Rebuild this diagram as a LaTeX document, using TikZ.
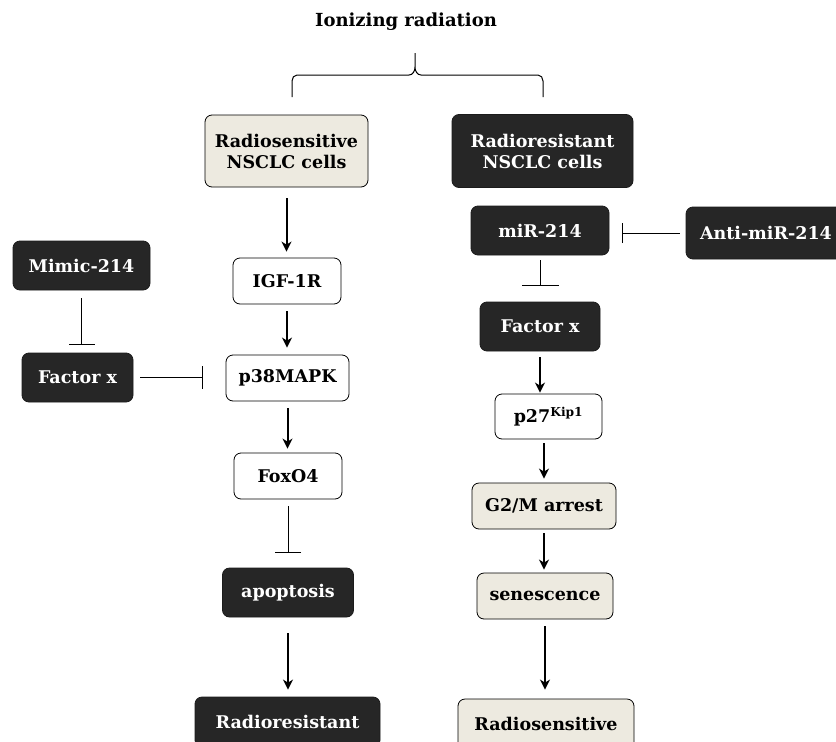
\documentclass[tikz,border=0pt]{standalone}
\usepackage{fontspec}
\setmainfont{DejaVu Serif}
\usetikzlibrary{arrows.meta,positioning}
\definecolor{boxdark}{RGB}{38,38,38}
\definecolor{boxpale}{RGB}{237,234,224}
\tikzset{
  pbox/.style   ={rectangle, rounded corners=7pt, draw=black, line width=0.8pt,
                  align=center, inner sep=2pt, font=\fontsize{17.5}{21}\selectfont\bfseries},
  pdark/.style  ={pbox, fill=boxdark, text=white, draw=boxdark!70!black},
  ppale/.style  ={pbox, fill=boxpale},
  pplain/.style ={pbox, fill=white},
  pact/.style   ={-{Stealth[length=10pt,width=10pt,inset=3pt]}, line width=2pt},
  pinh/.style   ={-{Bar[width=#1]}, line width=0.9pt},
  pinh/.default =26pt,
  pbrace/.style ={line width=1pt},
}

\begin{document}
\begin{tikzpicture}[x=1pt,y=-1pt]
  \clip (0,0) rectangle (836,742);
  \fill[white] (0,0) rectangle (836,742);

  % ---- top: the stimulus ---------------------------------------------------
  \node[font=\fontsize{18}{21}\selectfont\bfseries] (ir) at (406,22) {Ionizing radiation};
  \draw[pbrace] (292,97) -- (292,81) to[out=90,in=180] (297,75) -- (409,75)
                to[out=0,in=-90] (415,67) -- (415,53)
                (415,67) to[out=-90,in=180] (421,75) -- (538,75)
                to[out=0,in=90] (543,81) -- (543,97);

  % ---- left branch ---------------------------------------------------------
  \node[ppale,  minimum width=163pt, minimum height=72pt] (rsens) at (286.5,151) {Radiosensitive\\NSCLC cells};
  \node[pplain, minimum width=108pt, minimum height=46pt] (igf)   at (287,281)   {IGF-1R};
  \node[pplain, minimum width=123pt, minimum height=46pt] (p38)   at (287.5,378) {p38MAPK};
  \node[pplain, minimum width=108pt, minimum height=46pt] (foxo)  at (288,476)   {FoxO4};
  \node[pdark,  minimum width=131pt, minimum height=49pt] (apop)  at (288,592.5) {apoptosis};
  \node[pdark,  minimum width=185pt, minimum height=50pt] (rres2) at (287.5,722) {Radioresistant};
  \node[pdark,  minimum width=137pt, minimum height=49pt] (mimic) at (81.5,265.5) {Mimic-214};
  \node[pdark,  minimum width=111pt, minimum height=49pt] (facl)  at (77.5,377.5) {Factor x};

  \draw[pact, shorten <=11pt, shorten >=6pt] (rsens.south) -- (rsens.south |- igf.north);
  \draw[pact, shorten <=7pt, shorten >=7pt] (igf.south)  -- (igf.south |- p38.north);
  \draw[pact, shorten <=7pt, shorten >=4pt] (p38.south)  -- (p38.south |- foxo.north);
  \draw[pinh, shorten <=7pt, shorten >=15pt] (foxo.south) -- (foxo.south |- apop.north);
  \draw[pact, shorten <=16pt, shorten >=7pt] (apop.south) -- (apop.south |- rres2.north);
  \draw[pinh, shorten <=8pt, shorten >=8pt] (mimic.south) -- (mimic.south |- facl.north);
  \draw[pinh=23pt, shorten <=7pt, shorten >=23pt] (facl.east) -- (facl.east -| p38.west);

  % ---- right branch --------------------------------------------------------
  \node[pdark,  minimum width=181pt, minimum height=73pt] (rres)  at (542.5,151) {Radioresistant\\NSCLC cells};
  \node[pdark,  minimum width=138pt, minimum height=49pt] (mir)   at (540,230.5) {miR-214};
  \node[pdark,  minimum width=160pt, minimum height=52pt] (anti)  at (766,233)   {Anti-miR-214};
  \node[pdark,  minimum width=120pt, minimum height=49pt] (facr)  at (540,326.5) {Factor x};
  \node[pplain, minimum width=107pt, minimum height=45pt] (p27)   at (548.5,416.5) {p27\textsuperscript{Kip1}};
  \node[ppale,  minimum width=144pt, minimum height=46pt] (g2m)   at (544,506)   {G2/M arrest};
  \node[ppale,  minimum width=136pt, minimum height=46pt] (sen)   at (545,596)   {senescence};
  \node[ppale,  minimum width=176pt, minimum height=50pt] (rsens2) at (546,724)  {Radiosensitive};

  \draw[pinh=20pt, shorten <=6pt, shorten >=13pt] (anti.west) -- (anti.west -| mir.east);
  \draw[pinh=37pt, shorten <=5pt, shorten >=16pt] (mir.south) -- (mir.south |- facr.north);
  \draw[pact, shorten <=6pt, shorten >=1pt] (facr.south) -- (facr.south |- p27.north);
  \draw[pact, shorten <=4pt, shorten >=4pt] (g2m.north |- p27.south) -- (g2m.north);
  \draw[pact, shorten <=4pt, shorten >=3pt] (g2m.south) -- (g2m.south |- sen.north);
  \draw[pact, shorten <=7pt, shorten >=9pt] (sen.south) -- (sen.south |- rsens2.north);
\end{tikzpicture}
\end{document}
